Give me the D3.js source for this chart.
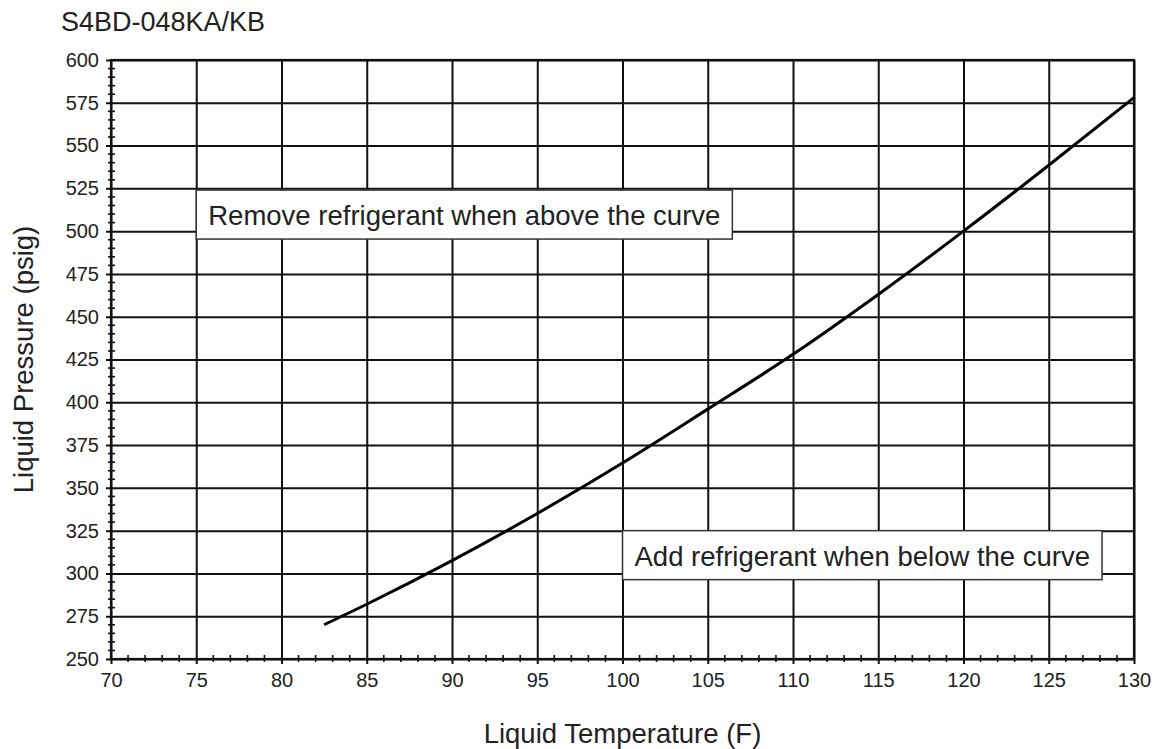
<!DOCTYPE html>
<html>
<head>
<meta charset="utf-8">
<script src="https://cdn.jsdelivr.net/npm/d3@7"></script>
<style>
  body { margin: 0; background: #fff; }
  text { font-family: "Liberation Sans", Arial, sans-serif; fill: #222; }
</style>
</head>
<body>
<script>
// SVG size
var svgWidth = 1161;
var svgHeight = 749;

var margin = { top: 60, right: 27, bottom: 90, left: 111 };
var chartWidth = svgWidth - margin.left - margin.right;
var chartHeight = svgHeight - margin.top - margin.bottom;

// chart data
var chartTitle = "S4BD-048KA/KB";
var xTitle = "Liquid Temperature (F)";
var yTitle = "Liquid Pressure (psig)";
var xTicks = [70, 75, 80, 85, 90, 95, 100, 105, 110, 115, 120, 125, 130];
var yTicks = [250, 275, 300, 325, 350, 375, 400, 425, 450, 475, 500, 525, 550, 575, 600];
var curveTemp = [82.5, 85, 90, 95, 100, 105, 110, 115, 120, 125, 130];
var curvePressure = [270, 282, 307.5, 335, 364.5, 396, 428, 463, 500, 538.5, 578];
var noteText = ["Remove refrigerant when above the curve", "Add refrigerant when below the curve"];
var noteTemp = [75, 100];
var notePressure = [524, 325];

var svg = d3.select("body")
  .append("svg")
  .attr("width", svgWidth)
  .attr("height", svgHeight);

var chartGroup = svg.append("g")
  .attr("transform", `translate(${margin.left}, ${margin.top})`);

var xScale = d3.scaleLinear().domain([70, 130]).range([0, chartWidth]);
var yScale = d3.scaleLinear().domain([250, 600]).range([chartHeight, 0]);

// minor ticks (every 1 F, every 5 psig)
var xMinor = d3.range(70, 131, 1).filter(d => d % 5 !== 0);
var yMinor = d3.range(250, 601, 5).filter(d => d % 25 !== 0);

chartGroup.append("g").selectAll("line")
  .data(xMinor).enter().append("line")
  .attr("x1", d => xScale(d)).attr("x2", d => xScale(d))
  .attr("y1", chartHeight - 4).attr("y2", chartHeight + 3)
  .attr("stroke", "#111").attr("stroke-width", 1.6);

chartGroup.append("g").selectAll("line")
  .data(yMinor).enter().append("line")
  .attr("y1", d => yScale(d)).attr("y2", d => yScale(d))
  .attr("x1", -3).attr("x2", 4)
  .attr("stroke", "#111").attr("stroke-width", 1.6);

// grid + axes
var bottomAxis = d3.axisBottom(xScale)
  .tickValues(xTicks)
  .tickSize(chartHeight + 5)
  .tickPadding(9);
var leftAxis = d3.axisLeft(yScale)
  .tickValues(yTicks)
  .tickSize(chartWidth + 5)
  .tickPadding(7);

var xAxisG = chartGroup.append("g")
  .call(bottomAxis);
var yAxisG = chartGroup.append("g")
  .attr("transform", `translate(${chartWidth}, 0)`)
  .call(leftAxis);

[xAxisG, yAxisG].forEach(function(g) {
  g.select(".domain").remove();
  g.selectAll(".tick line").attr("stroke", "#111").attr("stroke-width", 2);
  g.selectAll(".tick text")
    .attr("fill", "#222")
    .style("font-size", "20px")
    .style("font-family", "'Liberation Sans', Arial, sans-serif");
});

// plot frame
chartGroup.append("rect")
  .attr("width", chartWidth)
  .attr("height", chartHeight)
  .attr("fill", "none")
  .attr("stroke", "#111")
  .attr("stroke-width", 2.2);

// the curve
var points = curveTemp.map((t, i) => [t, curvePressure[i]]);
var drawLine = d3.line()
  .x(d => xScale(d[0]))
  .y(d => yScale(d[1]))
  .curve(d3.curveMonotoneX);

chartGroup.append("path")
  .datum(points)
  .attr("d", drawLine)
  .attr("fill", "none")
  .attr("stroke", "#000")
  .attr("stroke-width", 3);

// annotation boxes
noteText.forEach(function(txt, i) {
  var g = chartGroup.append("g")
    .attr("transform", `translate(${xScale(noteTemp[i])}, ${yScale(notePressure[i])})`);
  var box = g.append("rect")
    .attr("fill", "#fff")
    .attr("stroke", "#333")
    .attr("stroke-width", 1.5);
  var t = g.append("text")
    .attr("x", 12)
    .attr("y", 35)
    .style("font-size", "27.5px")
    .text(txt);
  var w = t.node().getComputedTextLength();
  box.attr("width", w + 24).attr("height", 49);
});

// titles
svg.append("text")
  .attr("x", 61)
  .attr("y", 31)
  .style("font-size", "27px")
  .text(chartTitle);

svg.append("text")
  .attr("x", margin.left + chartWidth / 2)
  .attr("y", 743)
  .attr("text-anchor", "middle")
  .style("font-size", "27.5px")
  .text(xTitle);

svg.append("text")
  .attr("transform", `translate(33, ${margin.top + chartHeight / 2}) rotate(-90)`)
  .attr("text-anchor", "middle")
  .style("font-size", "27.5px")
  .text(yTitle);
</script>
</body>
</html>
